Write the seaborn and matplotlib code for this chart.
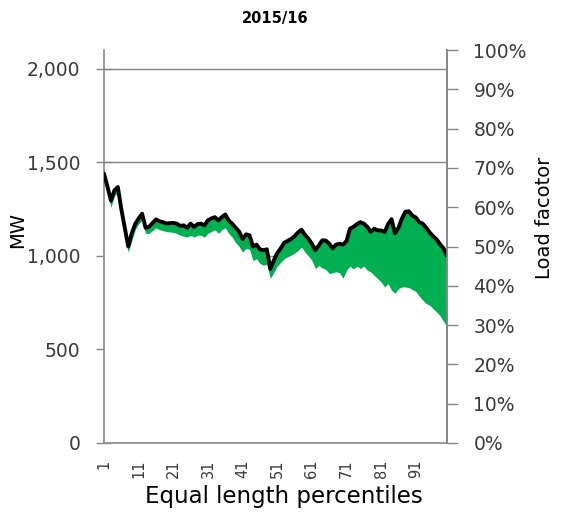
import numpy as np
import pandas as pd
import matplotlib
matplotlib.use("Agg")
import matplotlib.pyplot as plt
import seaborn as sns
from matplotlib.ticker import FuncFormatter, FixedLocator

# Equal length percentiles 1..100
percentiles = list(range(1, 101))

# Upper profile (MW) - black line
peak_mw = [
    1440, 1370, 1295, 1350, 1368, 1250, 1150, 1050, 1120, 1170,
    1200, 1225, 1150, 1155, 1175, 1195, 1185, 1180, 1173, 1175,
    1176, 1172, 1160, 1163, 1150, 1172, 1155, 1170, 1172, 1163,
    1190, 1200, 1207, 1189, 1207, 1221, 1189, 1172, 1150, 1130,
    1090, 1115, 1110, 1050, 1060, 1035, 1030, 1035, 930, 975,
    1015, 1040, 1070, 1080, 1090, 1105, 1125, 1140, 1112, 1092,
    1065, 1030, 1056, 1083, 1082, 1065, 1040, 1060, 1065, 1060,
    1080, 1145, 1155, 1170, 1180, 1172, 1155, 1128, 1145, 1136,
    1136, 1127, 1170, 1196, 1120, 1150, 1200, 1236, 1238, 1215,
    1205, 1180, 1172, 1150, 1125, 1105, 1088, 1062, 1040, 1000,
]

# Lower profile (MW) - bottom edge of the green band
base_mw = [
    1410, 1340, 1260, 1320, 1340, 1220, 1110, 1020, 1080, 1140,
    1170, 1190, 1120, 1120, 1135, 1150, 1140, 1135, 1130, 1128,
    1125, 1120, 1110, 1105, 1100, 1110, 1100, 1110, 1110, 1100,
    1120, 1130, 1140, 1120, 1140, 1150, 1120, 1100, 1070, 1050,
    1020, 1040, 1035, 975, 985, 960, 950, 955, 880, 910,
    945, 965, 985, 995, 1003, 1015, 1029, 1047, 1020, 1000,
    976, 932, 949, 935, 928, 905, 910, 915, 910, 880,
    923, 945, 930, 945, 932, 945, 923, 914, 896, 878,
    860, 834, 852, 816, 800, 825, 834, 834, 830, 820,
    810, 785, 763, 745, 736, 718, 700, 680, 650, 620,
]

mw_ticks = [0, 500, 1000, 1500, 2000]
lf_ticks = [0.0, 0.1, 0.2, 0.3, 0.4, 0.5, 0.6, 0.7, 0.8, 0.9, 1.0]

df = pd.DataFrame({"pct": percentiles, "peak": peak_mw, "base": base_mw})
df["pos"] = np.arange(len(df))

sns.set_theme(style="white")
plt.rcParams["font.family"] = ["DejaVu Sans"]

GREEN = "#00B050"
AXIS = "#868686"
TXT = "#3a3a3a"

fig = plt.figure(figsize=(5.61, 5.16), dpi=100)
ax = fig.add_axes([104 / 561, 1 - 443 / 516, 343 / 561, 393 / 516])

ax.set_ylim(0, 2100)
ax.set_xlim(df["pos"].iloc[0], df["pos"].iloc[-1])
ax.set_axisbelow(True)
ax.yaxis.set_major_locator(FixedLocator(mw_ticks))
ax.yaxis.grid(True, color=AXIS, linewidth=1.0)
ax.xaxis.grid(False)

# white underlay hides gridlines beneath the profile
ax.fill_between(df["pos"], 0, df["peak"], color="white", zorder=1.5, linewidth=0)
ax.fill_between(df["pos"], df["base"], df["peak"], color=GREEN, zorder=2, linewidth=0)
sns.lineplot(data=df, x="pos", y="peak", ax=ax, color="black", linewidth=2.8,
             zorder=3, legend=False)

ax.set_xlabel("")
ax.set_ylabel("")

ax.spines["top"].set_visible(False)
for side in ("left", "bottom", "right"):
    ax.spines[side].set_color(AXIS)
    ax.spines[side].set_linewidth(1.2)

ax.yaxis.set_major_formatter(FuncFormatter(lambda v, p: f"{int(v):,}"))
ax.tick_params(axis="y", which="major", direction="inout", length=12, width=1,
               color=AXIS, labelsize=13.5, labelcolor=TXT, pad=11)

ax.set_xticks(df["pos"])
ax.set_xticklabels([str(p) if (p - 1) % 10 == 0 else "" for p in df["pct"]],
                   rotation=90)
ax.tick_params(axis="x", which="major", direction="out", length=5, width=0.8,
               color=AXIS, labelsize=10.5, labelcolor=TXT, pad=7)

ax2 = ax.twinx()
ax2.set_ylim(0, 1)
ax2.yaxis.set_major_locator(FixedLocator(lf_ticks))
ax2.yaxis.set_major_formatter(FuncFormatter(lambda v, p: f"{v * 100:.0f}%"))
ax2.tick_params(axis="y", direction="out", length=8, width=1, color=AXIS,
                labelsize=13.5, labelcolor=TXT, pad=11)
ax2.grid(False)
for side in ("top", "left", "bottom"):
    ax2.spines[side].set_visible(False)
ax2.spines["right"].set_color(AXIS)
ax2.spines["right"].set_linewidth(1.2)

fig.text(275 / 561, 1 - 18 / 516, "2015/16", ha="center", va="center",
         fontsize=10.5, fontweight="bold", color="black")
fig.text(284 / 561, 1 - 497 / 516, "Equal length percentiles", ha="center",
         va="center", fontsize=16.5, color="black")
fig.text(18 / 561, 1 - 230 / 516, "MW", ha="center", va="center",
         rotation=90, fontsize=14, color="black")
fig.text(544 / 561, 1 - 218 / 516, "Load facotor", ha="center", va="center",
         rotation=90, fontsize=14, color="black")

fig.savefig("out.png", dpi=100, facecolor="white")
